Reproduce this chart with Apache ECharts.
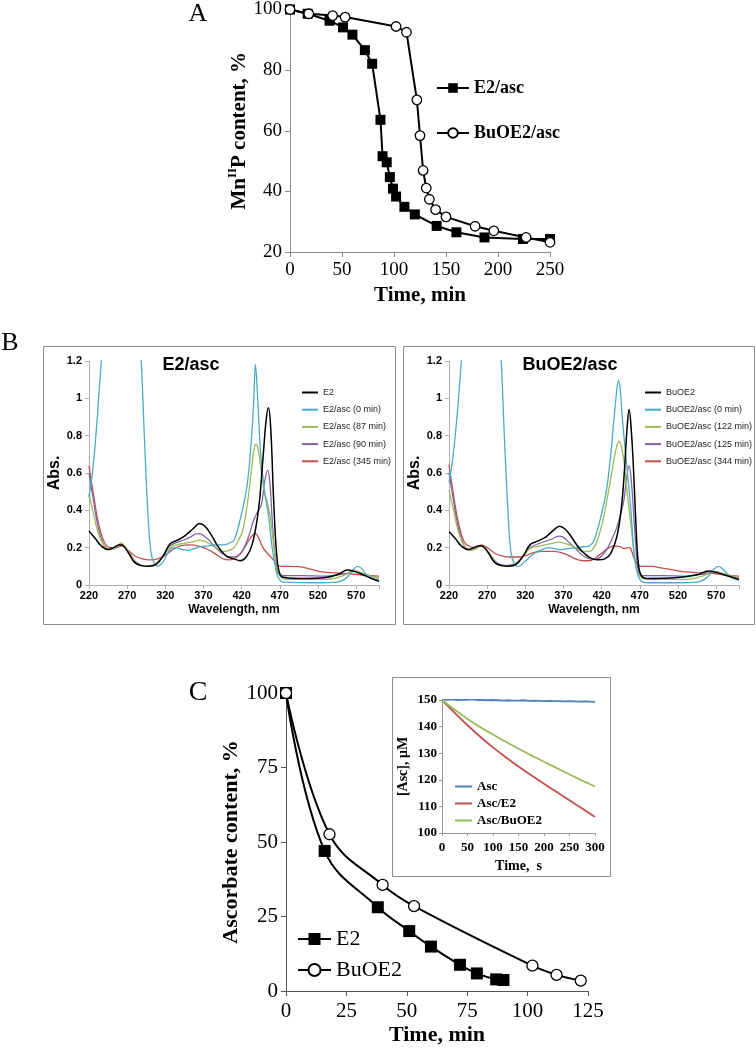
<!DOCTYPE html>
<html>
<head>
<meta charset="utf-8">
<script src="https://cdn.jsdelivr.net/npm/echarts@6/dist/echarts.min.js"></script>
<style>html,body{margin:0;padding:0;background:#fff}#chart{width:756px;height:1048px}</style>
</head>
<body>
<div id="chart"></div>
<script>
// ---------- Panel A: Mn(II)P content vs time ----------
const A_E2_time = [0, 17, 38, 51, 60, 72, 79, 87, 89, 93, 96, 99, 102, 110, 120, 141, 160, 187, 224, 250];
const A_E2_val  = [100, 98.6, 96.3, 94.1, 91.7, 86.6, 82.1, 63.6, 51.6, 49.6, 44.7, 40.9, 38.3, 34.9, 32.4, 28.6, 26.5, 24.8, 24.3, 24.3];
const A_Bu_time = [0, 18, 41, 53, 102, 112, 122, 125, 128, 131, 134, 140, 150, 178, 196, 227, 250];
const A_Bu_val  = [100, 98.6, 98.0, 97.5, 94.4, 92.5, 70.2, 58.4, 46.9, 41.1, 37.4, 34.0, 31.6, 28.5, 27.0, 24.8, 23.2];

// ---------- Panel B: UV-vis spectra (wavelength nm, absorbance) ----------
const BL_E2 = [[220,0.29],[228,0.25],[236,0.21],[245,0.19],[252,0.2],[260,0.215],[265,0.21],[272,0.17],[280,0.12],[288,0.105],[298,0.1],[308,0.11],[318,0.16],[326,0.22],[336,0.24],[346,0.265],[356,0.3],[365,0.33],[372,0.315],[380,0.27],[390,0.2],[400,0.155],[410,0.14],[418,0.13],[426,0.15],[434,0.22],[442,0.4],[448,0.68],[452,0.88],[455,0.95],[458,0.85],[462,0.45],[466,0.16],[470,0.06],[476,0.04],[500,0.035],[530,0.04],[548,0.06],[558,0.08],[566,0.075],[576,0.06],[590,0.035],[600,0.02]];
const BL_0min = [[220,0.47],[225,0.62],[230,0.85],[234,1.08],[238,1.3],[245,1.7],[260,2.2],[275,2.0],[284,1.5],[289,1.15],[293,0.75],[297,0.4],[301,0.18],[305,0.12],[310,0.1],[318,0.13],[326,0.19],[334,0.2],[342,0.19],[350,0.185],[358,0.195],[366,0.205],[376,0.21],[386,0.215],[396,0.215],[404,0.225],[410,0.24],[418,0.35],[427,0.53],[433,0.79],[436,1.0],[438,1.18],[441,1.0],[445,0.7],[450,0.5],[455,0.38],[460,0.2],[464,0.1],[468,0.04],[475,0.015],[520,0.012],[545,0.015],[558,0.04],[566,0.08],[572,0.1],[578,0.085],[585,0.05],[600,0.025]];
const BL_87min = [[220,0.49],[226,0.38],[232,0.28],[240,0.21],[248,0.19],[256,0.2],[262,0.225],[268,0.2],[276,0.15],[284,0.11],[294,0.1],[304,0.105],[314,0.14],[326,0.2],[340,0.22],[355,0.23],[366,0.24],[376,0.225],[386,0.2],[396,0.18],[404,0.185],[410,0.2],[416,0.24],[422,0.3],[428,0.45],[433,0.62],[436,0.72],[439,0.755],[442,0.72],[446,0.6],[450,0.5],[455,0.42],[459,0.32],[463,0.18],[467,0.08],[472,0.04],[480,0.03],[530,0.03],[550,0.045],[563,0.07],[570,0.075],[580,0.06],[600,0.035]];
const BL_90min = [[220,0.6],[226,0.45],[232,0.31],[240,0.21],[248,0.19],[256,0.2],[262,0.215],[268,0.2],[276,0.15],[284,0.115],[294,0.1],[304,0.105],[314,0.14],[326,0.21],[340,0.235],[352,0.255],[362,0.275],[368,0.27],[376,0.245],[386,0.2],[396,0.165],[406,0.15],[414,0.155],[422,0.19],[430,0.27],[436,0.35],[442,0.4],[446,0.43],[450,0.55],[454,0.615],[457,0.55],[460,0.35],[464,0.15],[468,0.06],[474,0.05],[500,0.05],[530,0.048],[555,0.06],[568,0.075],[580,0.06],[600,0.035]];
const BL_345min = [[220,0.64],[226,0.48],[232,0.34],[240,0.23],[248,0.2],[256,0.2],[262,0.21],[270,0.19],[280,0.155],[290,0.14],[300,0.135],[310,0.14],[320,0.16],[330,0.19],[340,0.21],[352,0.215],[366,0.205],[376,0.19],[386,0.165],[396,0.14],[404,0.135],[412,0.145],[420,0.175],[428,0.23],[434,0.265],[438,0.275],[442,0.255],[448,0.2],[456,0.16],[464,0.125],[470,0.1],[480,0.1],[495,0.098],[510,0.085],[525,0.07],[545,0.065],[560,0.06],[575,0.055],[590,0.05],[600,0.048]];

const BR_BuOE2 = [[220,0.285],[228,0.25],[236,0.21],[245,0.19],[252,0.2],[260,0.21],[265,0.205],[272,0.17],[280,0.12],[288,0.105],[298,0.1],[308,0.11],[318,0.16],[326,0.215],[336,0.235],[346,0.255],[356,0.29],[365,0.315],[372,0.3],[380,0.26],[390,0.2],[400,0.16],[408,0.14],[416,0.135],[424,0.14],[432,0.17],[440,0.26],[446,0.42],[450,0.62],[453,0.82],[456,0.94],[459,0.82],[462,0.6],[465,0.32],[468,0.12],[472,0.05],[480,0.035],[520,0.04],[545,0.055],[560,0.075],[568,0.07],[580,0.055],[600,0.03]];
const BR_0min = [[220,0.55],[225,0.68],[230,0.88],[234,1.08],[238,1.3],[245,1.7],[260,2.2],[275,2.0],[284,1.5],[289,1.15],[293,0.75],[297,0.42],[301,0.18],[306,0.11],[311,0.1],[318,0.12],[326,0.15],[334,0.175],[342,0.19],[350,0.2],[358,0.195],[366,0.19],[376,0.195],[386,0.2],[396,0.205],[404,0.21],[410,0.24],[418,0.35],[426,0.5],[432,0.7],[436,0.88],[440,1.05],[442,1.095],[444,1.06],[447,0.9],[451,0.72],[455,0.55],[458,0.42],[462,0.2],[466,0.08],[472,0.02],[480,0.012],[520,0.012],[545,0.015],[558,0.04],[566,0.08],[573,0.1],[580,0.08],[588,0.045],[600,0.025]];
const BR_122min = [[220,0.51],[226,0.4],[232,0.29],[240,0.21],[248,0.185],[256,0.195],[262,0.21],[268,0.195],[276,0.15],[284,0.11],[294,0.1],[304,0.105],[314,0.14],[326,0.195],[340,0.21],[352,0.22],[364,0.23],[374,0.22],[386,0.2],[396,0.18],[404,0.18],[410,0.2],[416,0.26],[422,0.35],[428,0.48],[434,0.62],[439,0.73],[443,0.77],[446,0.74],[449,0.67],[452,0.55],[455,0.44],[459,0.3],[463,0.15],[467,0.07],[472,0.04],[480,0.03],[530,0.03],[550,0.045],[563,0.065],[570,0.07],[580,0.06],[600,0.035]];
const BR_125min = [[220,0.6],[226,0.45],[232,0.31],[240,0.21],[248,0.19],[256,0.2],[262,0.21],[268,0.195],[276,0.15],[284,0.115],[294,0.105],[304,0.11],[314,0.14],[326,0.2],[340,0.225],[354,0.245],[364,0.262],[370,0.255],[378,0.225],[386,0.195],[396,0.155],[406,0.14],[414,0.14],[422,0.165],[428,0.2],[434,0.25],[440,0.31],[445,0.38],[449,0.45],[453,0.58],[456,0.64],[459,0.55],[462,0.38],[465,0.2],[468,0.08],[474,0.05],[500,0.05],[530,0.048],[555,0.06],[568,0.07],[580,0.06],[600,0.035]];
const BR_344min = [[220,0.645],[226,0.48],[232,0.34],[240,0.23],[248,0.205],[256,0.2],[262,0.215],[270,0.2],[280,0.17],[290,0.155],[300,0.15],[312,0.15],[322,0.16],[332,0.175],[344,0.18],[356,0.18],[366,0.175],[376,0.16],[386,0.14],[396,0.13],[404,0.13],[412,0.145],[420,0.17],[428,0.195],[436,0.21],[444,0.205],[450,0.195],[455,0.2],[458,0.195],[462,0.15],[467,0.11],[472,0.1],[485,0.1],[500,0.09],[515,0.08],[530,0.07],[550,0.065],[570,0.06],[590,0.05],[600,0.048]];

// ---------- Panel C: ascorbate content vs time ----------
const C_E2_time = [0, 16, 38, 51, 60, 72, 79, 87, 90];
const C_E2_val  = [100, 47.0, 28.1, 20.1, 14.9, 8.8, 5.9, 3.9, 3.7];
const C_Bu_time = [0, 18, 40, 53, 102, 112, 122];
const C_Bu_val  = [100, 52.6, 35.6, 28.5, 8.5, 5.4, 3.5];

// ---------- Inset: [Asc] vs time (s) ----------
const In_Asc = [[0,150.2],[10,150.1],[20,150.2],[30,150.0],[40,150.1],[50,150.1],[60,150.2],[70,150.0],[80,150.0],[90,149.9],[100,150.0],[110,149.9],[120,149.8],[130,149.9],[140,149.8],[150,149.8],[160,149.9],[170,149.7],[180,149.8],[190,149.7],[200,149.6],[210,149.7],[220,149.6],[230,149.6],[240,149.5],[250,149.6],[260,149.5],[270,149.4],[280,149.5],[290,149.4],[300,149.3]];
const In_AscE2 = [[0,150],[25,145.2],[50,140.5],[75,136.2],[100,132.2],[125,128.5],[150,125],[175,121.7],[200,118.5],[225,115.4],[250,112.3],[275,109.2],[300,106]];
const In_AscBu = [[0,150],[25,146.3],[50,142.9],[75,139.8],[100,137],[125,134.3],[150,131.7],[175,129.2],[200,126.8],[225,124.4],[250,122],[275,119.7],[300,117.5]];

const SERIF = "'Liberation Serif','Times New Roman',serif";
const SANS = "'Liberation Sans',Arial,sans-serif";
const pair = (xs, ys) => xs.map((x, i) => [x, ys[i]]);

const chart = echarts.init(document.getElementById('chart'), null, {renderer: 'canvas'});

function axisBase(grid, opts) {
  return Object.assign({
    gridIndex: grid, type: 'value', splitLine: {show: false},
    axisLine: {show: true, onZero: false, lineStyle: {color: '#8c8c8c', width: 1}},
    axisTick: {show: true, inside: false, length: 5, lineStyle: {color: '#8c8c8c'}},
  }, opts);
}

const bLabel = {fontFamily: SANS, fontWeight: 'bold', fontSize: 11, color: '#000'};
const bAxisLine = {show: true, onZero: false, lineStyle: {color: '#b0b0b0'}};
const bTick = {show: true, length: 4, lineStyle: {color: '#b0b0b0'}};

const xAxes = [
  axisBase(0, {min: 0, max: 250, interval: 50,
    axisLabel: {fontFamily: SERIF, fontSize: 19, color: '#000', margin: 9},
    name: 'Time, min', nameLocation: 'middle', nameGap: 33,
    nameTextStyle: {fontFamily: SERIF, fontWeight: 'bold', fontSize: 21, color: '#000'}}),
  axisBase(1, {min: 220, max: 600, interval: 50, axisLine: bAxisLine, axisTick: bTick,
    axisLabel: Object.assign({margin: 5, formatter: v => v === 600 ? '' : v}, bLabel),
    name: 'Wavelength, nm', nameLocation: 'middle', nameGap: 19,
    nameTextStyle: {fontFamily: SANS, fontWeight: 'bold', fontSize: 12, color: '#000'}}),
  axisBase(2, {min: 220, max: 600, interval: 50, axisLine: bAxisLine, axisTick: bTick,
    axisLabel: Object.assign({margin: 5, formatter: v => v === 600 ? '' : v}, bLabel),
    name: 'Wavelength, nm', nameLocation: 'middle', nameGap: 19,
    nameTextStyle: {fontFamily: SANS, fontWeight: 'bold', fontSize: 12, color: '#000'}}),
  axisBase(3, {min: 0, max: 125, interval: 25,
    axisLine: {show: true, onZero: false, lineStyle: {color: '#555', width: 1}},
    axisTick: {show: true, length: 5, lineStyle: {color: '#555'}},
    axisLabel: {fontFamily: SERIF, fontSize: 21, color: '#000', margin: 10},
    name: 'Time, min', nameLocation: 'middle', nameGap: 33,
    nameTextStyle: {fontFamily: SERIF, fontWeight: 'bold', fontSize: 22, color: '#000'}}),
  axisBase(4, {min: 0, max: 300, interval: 50,
    axisLine: {show: true, onZero: false, lineStyle: {color: '#999'}},
    axisTick: {show: true, length: 3, lineStyle: {color: '#999'}},
    axisLabel: {fontFamily: SERIF, fontWeight: 'bold', fontSize: 13, color: '#000', margin: 8},
    name: 'Time,  s', nameLocation: 'middle', nameGap: 26,
    nameTextStyle: {fontFamily: SERIF, fontWeight: 'bold', fontSize: 14, color: '#000'}})
];

const yAxes = [
  axisBase(0, {min: 20, max: 100, interval: 20,
    axisLabel: {fontFamily: SERIF, fontSize: 19, color: '#000', margin: 8},
    name: 'Mn{s|II}P content, %', nameLocation: 'middle', nameGap: 33, nameRotate: 90,
    nameTextStyle: {fontFamily: SERIF, fontWeight: 'bold', fontSize: 21, color: '#000',
      rich: {s: {fontFamily: SERIF, fontWeight: 'bold', fontSize: 13, color: '#000', verticalAlign: 'top', lineHeight: 26}}}}),
  axisBase(1, {min: 0, max: 1.2, interval: 0.2, axisLine: bAxisLine, axisTick: bTick,
    axisLabel: Object.assign({margin: 7}, bLabel),
    name: 'Abs.', nameLocation: 'middle', nameGap: 26, nameRotate: 90,
    nameTextStyle: {fontFamily: SANS, fontWeight: 'bold', fontSize: 16, color: '#000'}}),
  axisBase(2, {min: 0, max: 1.2, interval: 0.2, axisLine: bAxisLine, axisTick: bTick,
    axisLabel: Object.assign({margin: 7}, bLabel),
    name: 'Abs.', nameLocation: 'middle', nameGap: 26, nameRotate: 90,
    nameTextStyle: {fontFamily: SANS, fontWeight: 'bold', fontSize: 16, color: '#000'}}),
  axisBase(3, {min: 0, max: 100, interval: 25,
    axisLine: {show: true, onZero: false, lineStyle: {color: '#555', width: 1}},
    axisTick: {show: true, length: 5, lineStyle: {color: '#555'}},
    axisLabel: {fontFamily: SERIF, fontSize: 21, color: '#000', margin: 8},
    name: 'Ascorbate content, %', nameLocation: 'middle', nameGap: 35, nameRotate: 90,
    nameTextStyle: {fontFamily: SERIF, fontWeight: 'bold', fontSize: 22, color: '#000'}}),
  axisBase(4, {min: 100, max: 150, interval: 10,
    axisLine: {show: true, onZero: false, lineStyle: {color: '#999'}},
    axisTick: {show: true, length: 3, lineStyle: {color: '#999'}},
    axisLabel: {fontFamily: SERIF, fontWeight: 'bold', fontSize: 13, color: '#000', margin: 5},
    name: '[Asc], μM', nameLocation: 'middle', nameGap: 32, nameRotate: 90,
    nameTextStyle: {fontFamily: SERIF, fontWeight: 'bold', fontSize: 14, color: '#000'}})
];

const COL = {black: '#000000', cyan: '#4bacc6', green: '#9bbb59', purple: '#8064a2', red: '#c0504d', blue: '#4f81bd'};

function spec(name, grid, data, color, w, sm) {
  return {type: 'line', name: name, xAxisIndex: grid, yAxisIndex: grid, data: data,
    symbol: 'none', smooth: sm === undefined ? 0.4 : sm, color: color, clip: true,
    lineStyle: {color: color, width: w || 1.3}, z: 3};
}

const series = [
  {type: 'line', name: 'A|E2/asc', xAxisIndex: 0, yAxisIndex: 0, data: pair(A_E2_time, A_E2_val),
    symbol: 'rect', symbolSize: 10, color: '#000', itemStyle: {color: '#000'}, lineStyle: {color: '#000', width: 2}},
  {type: 'line', name: 'A|BuOE2/asc', xAxisIndex: 0, yAxisIndex: 0, data: pair(A_Bu_time, A_Bu_val),
    symbol: 'circle', symbolSize: 9.5, color: '#000', itemStyle: {color: '#fff', borderColor: '#000', borderWidth: 1.3}, lineStyle: {color: '#000', width: 2}},

  spec('L|E2/asc (345 min)', 1, BL_345min, COL.red),
  spec('L|E2/asc (90 min)', 1, BL_90min, COL.purple),
  spec('L|E2/asc (87 min)', 1, BL_87min, COL.green),
  spec('L|E2/asc (0 min)', 1, BL_0min, COL.cyan),
  spec('L|E2', 1, BL_E2, COL.black, 1.5),

  spec('R|BuOE2/asc (344 min)', 2, BR_344min, COL.red),
  spec('R|BuOE2/asc (125 min)', 2, BR_125min, COL.purple),
  spec('R|BuOE2/asc (122 min)', 2, BR_122min, COL.green),
  spec('R|BuOE2/asc (0 min)', 2, BR_0min, COL.cyan),
  spec('R|BuOE2', 2, BR_BuOE2, COL.black, 1.5),

  {type: 'line', name: 'C|E2', xAxisIndex: 3, yAxisIndex: 3, data: pair(C_E2_time, C_E2_val), smooth: 0.4,
    symbol: 'rect', symbolSize: 12, color: '#000', itemStyle: {color: '#000'}, lineStyle: {color: '#000', width: 2}},
  {type: 'line', name: 'C|BuOE2', xAxisIndex: 3, yAxisIndex: 3, data: pair(C_Bu_time, C_Bu_val), smooth: 0.4,
    symbol: 'circle', symbolSize: 11, color: '#000', itemStyle: {color: '#fff', borderColor: '#000', borderWidth: 1.3}, lineStyle: {color: '#000', width: 2}},

  spec('I|Asc', 4, In_Asc, COL.blue, 1.8, false),
  spec('I|Asc/E2', 4, In_AscE2, COL.red, 1.8, 0.3),
  spec('I|Asc/BuOE2', 4, In_AscBu, COL.green, 1.8, 0.3)
];

const strip = n => n.split('|')[1];
const legends = [
  {left: 436, top: 79, orient: 'vertical', itemWidth: 32, itemHeight: 12, itemGap: 27, padding: 0,
    formatter: strip, selectedMode: false,
    textStyle: {fontFamily: SERIF, fontWeight: 'bold', fontSize: 18, color: '#000'},
    data: ['A|E2/asc', 'A|BuOE2/asc']},
  {left: 302, top: 388, orient: 'vertical', itemWidth: 16, itemHeight: 2, itemGap: 8.2, padding: 0, icon: 'rect',
    formatter: strip, selectedMode: false, itemStyle: {borderWidth: 0},
    textStyle: {fontFamily: SANS, fontSize: 9, color: '#222'},
    data: ['L|E2', 'L|E2/asc (0 min)', 'L|E2/asc (87 min)', 'L|E2/asc (90 min)', 'L|E2/asc (345 min)']},
  {left: 645, top: 388, orient: 'vertical', itemWidth: 16, itemHeight: 2, itemGap: 8.2, padding: 0, icon: 'rect',
    formatter: strip, selectedMode: false, itemStyle: {borderWidth: 0},
    textStyle: {fontFamily: SANS, fontSize: 9, color: '#222'},
    data: ['R|BuOE2', 'R|BuOE2/asc (0 min)', 'R|BuOE2/asc (122 min)', 'R|BuOE2/asc (125 min)', 'R|BuOE2/asc (344 min)']},
  {left: 297, top: 928, orient: 'vertical', itemWidth: 33, itemHeight: 15, itemGap: 9, padding: 0,
    formatter: strip, selectedMode: false,
    textStyle: {fontFamily: SERIF, fontSize: 22, color: '#000'},
    data: ['C|E2', 'C|BuOE2']},
  {left: 455, top: 780, orient: 'vertical', itemWidth: 17, itemHeight: 2, itemGap: 4, padding: 0, icon: 'rect',
    formatter: strip, selectedMode: false, itemStyle: {borderWidth: 0},
    textStyle: {fontFamily: SERIF, fontWeight: 'bold', fontSize: 13, color: '#000'},
    data: ['I|Asc', 'I|Asc/E2', 'I|Asc/BuOE2']}
];

const graphics = [
  {type: 'rect', z: -1, shape: {x: 43.5, y: 346.5, width: 352, height: 278}, style: {fill: '#fff', stroke: '#8c8c8c', lineWidth: 1}},
  {type: 'rect', z: -1, shape: {x: 403.5, y: 346.5, width: 351, height: 278}, style: {fill: '#fff', stroke: '#8c8c8c', lineWidth: 1}},
  {type: 'rect', z: -1, shape: {x: 392.5, y: 677.5, width: 218, height: 199}, style: {fill: '#fff', stroke: '#8c8c8c', lineWidth: 1}},
  {type: 'text', x: 198, y: 14, style: {text: 'A', font: "26px 'Liberation Serif'", fill: '#000', textAlign: 'center', textVerticalAlign: 'middle'}},
  {type: 'text', x: 10, y: 343, style: {text: 'B', font: "26px 'Liberation Serif'", fill: '#000', textAlign: 'center', textVerticalAlign: 'middle'}},
  {type: 'text', x: 198, y: 693, style: {text: 'C', font: "28px 'Liberation Serif'", fill: '#000', textAlign: 'center', textVerticalAlign: 'middle'}},
  {type: 'text', x: 191, y: 365, style: {text: 'E2/asc', font: "bold 18px 'Liberation Sans'", fill: '#000', textAlign: 'center', textVerticalAlign: 'middle'}},
  {type: 'text', x: 570, y: 365, style: {text: 'BuOE2/asc', font: "bold 18px 'Liberation Sans'", fill: '#000', textAlign: 'center', textVerticalAlign: 'middle'}}
];

chart.setOption({
  animation: false,
  backgroundColor: '#ffffff',
  grid: [
    {left: 290, top: 8, width: 260, height: 244},
    {left: 89, top: 361, width: 290, height: 224},
    {left: 449, top: 361, width: 290, height: 224},
    {left: 286, top: 693, width: 302, height: 298},
    {left: 442, top: 700, width: 153, height: 133}
  ],
  xAxis: xAxes,
  yAxis: yAxes,
  legend: legends,
  graphic: graphics,
  series: series
});
</script>
</body>
</html>
